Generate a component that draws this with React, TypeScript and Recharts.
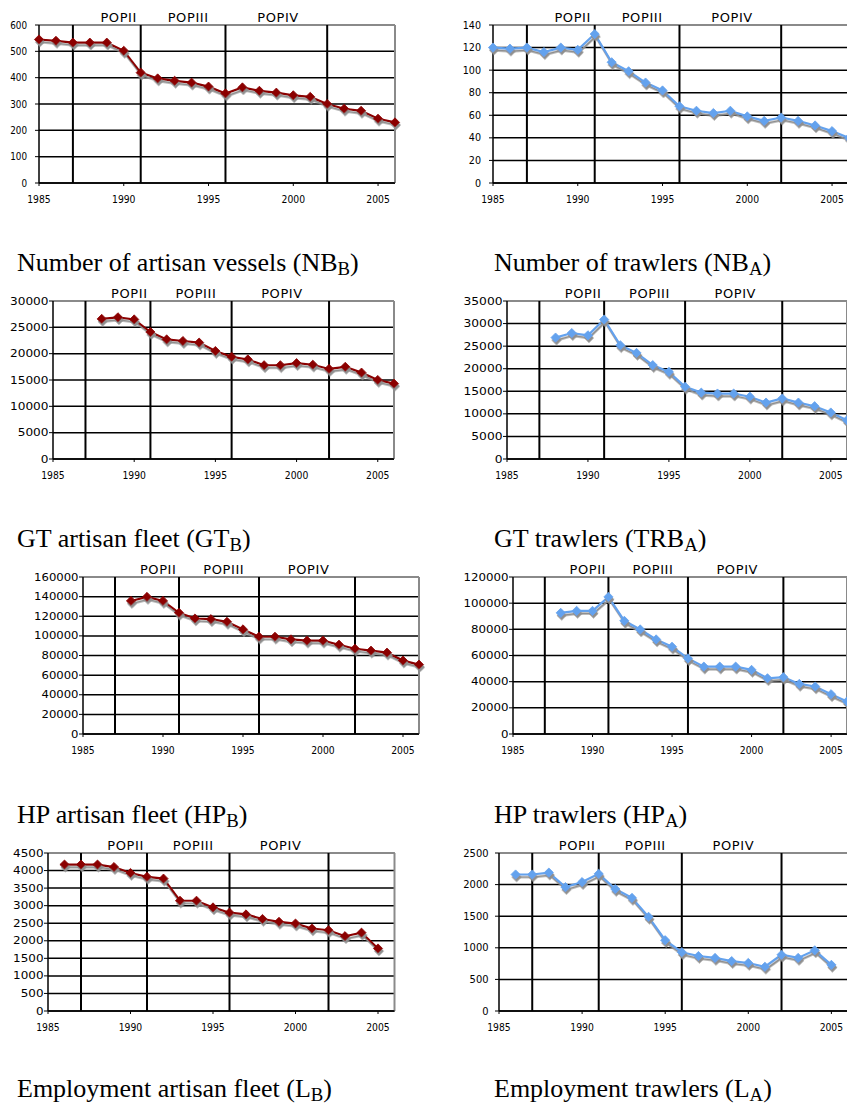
import React from 'react';
import { LineChart, Line, XAxis, YAxis, CartesianGrid, ReferenceLine } from 'recharts';

// ---------- data ----------
const yearsFull = [1985, 1986, 1987, 1988, 1989, 1990, 1991, 1992, 1993, 1994, 1995, 1996, 1997, 1998, 1999, 2000, 2001, 2002, 2003, 2004, 2005, 2006];
const yearsFrom1988 = [1988, 1989, 1990, 1991, 1992, 1993, 1994, 1995, 1996, 1997, 1998, 1999, 2000, 2001, 2002, 2003, 2004, 2005, 2006];
const yearsEmployment = [1986, 1987, 1988, 1989, 1990, 1991, 1992, 1993, 1994, 1995, 1996, 1997, 1998, 1999, 2000, 2001, 2002, 2003, 2004, 2005];

const nbArtisan = [545, 540, 533, 533, 533, 502, 419, 397, 388, 381, 366, 340, 363, 350, 343, 333, 327, 300, 282, 274, 244, 230];
const nbTrawlers = [120, 119, 120, 116, 120, 118, 132, 107, 99, 89, 82, 68, 64, 62, 64, 59, 55, 58, 55, 51, 46, 40];
const gtArtisan = [26600, 26900, 26500, 24100, 22700, 22400, 22100, 20500, 19400, 18900, 17800, 17800, 18200, 17900, 17100, 17500, 16400, 15000, 14300];
const gtTrawlers = [26900, 27900, 27400, 30900, 25200, 23500, 20800, 19300, 16000, 14700, 14500, 14500, 13800, 12500, 13400, 12500, 11700, 10300, 8600];
const hpArtisan = [135600, 139700, 135600, 123500, 117700, 117000, 114300, 106600, 99100, 99100, 96400, 95100, 95100, 91000, 86900, 84900, 82900, 74800, 70700];
const hpTrawlers = [92600, 94100, 94100, 104800, 86500, 79900, 72300, 66700, 57800, 51500, 51500, 51500, 49000, 42600, 43400, 38300, 36300, 30400, 24900];
const empArtisan = [4170, 4170, 4170, 4100, 3930, 3820, 3770, 3140, 3140, 2950, 2800, 2750, 2620, 2540, 2490, 2350, 2300, 2130, 2230, 1780];
const empTrawlers = [2160, 2160, 2190, 1960, 2040, 2170, 1930, 1790, 1490, 1120, 930, 870, 840, 790, 760, 700, 890, 840, 960, 730];

const xTicks = [1985, 1990, 1995, 2000, 2005];
const xDomain = [1985, 2006];
const ticksNbArtisan = [0, 100, 200, 300, 400, 500, 600];
const ticksNbTrawlers = [0, 20, 40, 60, 80, 100, 120, 140];
const ticksGtArtisan = [0, 5000, 10000, 15000, 20000, 25000, 30000];
const ticksGtTrawlers = [0, 5000, 10000, 15000, 20000, 25000, 30000, 35000];
const ticksHpArtisan = [0, 20000, 40000, 60000, 80000, 100000, 120000, 140000, 160000];
const ticksHpTrawlers = [0, 20000, 40000, 60000, 80000, 100000, 120000];
const ticksEmpArtisan = [0, 500, 1000, 1500, 2000, 2500, 3000, 3500, 4000, 4500];
const ticksEmpTrawlers = [0, 500, 1000, 1500, 2000, 2500];

const periodLines = [1987, 1991, 1996, 2002];
const periodLabels = ['POPII', 'POPIII', 'POPIV'];
const periodLabelYears = [1989.7, 1993.8, 1999.1];

// ---------- styles / layout ----------
const RED = '#8B0000';
const BLUE = '#64A2EE';
const SANS = '"DejaVu Sans", Verdana, sans-serif';
const SERIF = '"Liberation Serif", "Times New Roman", serif';

const panels = [
  { years: yearsFull, values: nbArtisan, ticks: ticksNbArtisan, color: RED, title: 'Number of artisan vessels (NB', sub: 'B',
    l: 39, t: 25, r: 395, b: 183, yDigit: 5.6, yGap: 12, tx: 17, ty: 250 },
  { years: yearsFull, values: nbTrawlers, ticks: ticksNbTrawlers, color: BLUE, title: 'Number of trawlers (NB', sub: 'A',
    l: 493, t: 25, r: 849, b: 183, yDigit: 6.1, yGap: 12, tx: 494, ty: 250 },
  { years: yearsFrom1988, values: gtArtisan, ticks: ticksGtArtisan, color: RED, title: 'GT artisan fleet (GT', sub: 'B',
    l: 53, t: 301, r: 394, b: 459, yDigit: 7.7, yGap: 4.5, tx: 17, ty: 526 },
  { years: yearsFrom1988, values: gtTrawlers, ticks: ticksGtTrawlers, color: BLUE, title: 'GT trawlers (TRB', sub: 'A',
    l: 507, t: 301, r: 847, b: 459, yDigit: 7.8, yGap: 4.5, tx: 494, ty: 526 },
  { years: yearsFrom1988, values: hpArtisan, ticks: ticksHpArtisan, color: RED, title: 'HP artisan fleet (HP', sub: 'B',
    l: 83, t: 577, r: 419, b: 734, yDigit: 7.4, yGap: 4.5, tx: 17, ty: 802 },
  { years: yearsFrom1988, values: hpTrawlers, ticks: ticksHpTrawlers, color: BLUE, title: 'HP trawlers (HP', sub: 'A',
    l: 513, t: 577, r: 847, b: 734, yDigit: 7.5, yGap: 4.5, tx: 494, ty: 802 },
  { years: yearsEmployment, values: empArtisan, ticks: ticksEmpArtisan, color: RED, title: 'Employment artisan fleet (L', sub: 'B',
    l: 48, t: 853, r: 394.5, b: 1011, yDigit: 7.6, yGap: 4.5, tx: 17, ty: 1076 },
  { years: yearsEmployment, values: empTrawlers, ticks: ticksEmpTrawlers, color: BLUE, title: 'Employment trawlers (L', sub: 'A',
    l: 499, t: 853, r: 848, b: 1011, yDigit: 6.3, yGap: 10.5, tx: 494, ty: 1076 },
];

const TOP_PAD = 28;
const Y_W = 60;
const X_H = 30;

const XTick = (props: any) => {
  const { x, y, payload } = props;
  return (
    <text x={x} y={y} dy="0.71em" textAnchor="middle" fontFamily={SANS} fontSize={10} fill="#000"
      textLength={23.5} lengthAdjust="spacingAndGlyphs">
      {payload.value}
    </text>
  );
};

const makeYTick = (digitW: number) => (props: any) => {
  const { x, y, payload } = props;
  const s = String(payload.value);
  return (
    <text x={x} y={y} dy="0.36em" textAnchor="end" fontFamily={SANS} fontSize={10} fill="#000"
      textLength={s.length * digitW} lengthAdjust="spacingAndGlyphs">
      {s}
    </text>
  );
};

const makeDiamond = (color: string) => (props: any) => {
  const { cx, cy, index } = props;
  if (cx == null || cy == null) return <g key={index} />;
  const r = 4.6;
  return (
    <path key={index} d={`M${cx},${cy - r}L${cx + r},${cy}L${cx},${cy + r}L${cx - r},${cy}Z`}
      fill={color} stroke={color} strokeWidth={0.8} />
  );
};

const PopLabel = (text: string) => (props: any) => {
  const vb = props.viewBox || {};
  const x = (vb.x || 0) + (vb.width || 0) / 2;
  const y = (vb.y || 0) - 3;
  return (
    <text x={x} y={y} textAnchor="middle" fontFamily={SANS} fontSize={13} letterSpacing={0.6} fill="#000">
      {text}
    </text>
  );
};

const Panel = ({ p }: { p: any }) => {
  const data = p.years.map((year: number, i: number) => ({ year, value: p.values[i] }));
  const width = p.r - p.l + Y_W + 6;
  const height = p.b - p.t + TOP_PAD + X_H + 2;
  const yMax = p.ticks[p.ticks.length - 1];
  return (
    <div className="panel" style={{ position: 'absolute', left: p.l - Y_W, top: p.t - TOP_PAD, width, height }}>
      <LineChart width={width} height={height} data={data}
        margin={{ top: TOP_PAD, right: 6, left: 0, bottom: 2 }}>
        <CartesianGrid horizontal vertical={false} stroke="#000" strokeWidth={1.5} />
        <XAxis dataKey="year" type="number" domain={xDomain} ticks={xTicks} interval={0}
          tick={XTick} tickSize={3} tickMargin={10} height={X_H}
          axisLine={{ stroke: '#000', strokeWidth: 1.5 }} tickLine={{ stroke: '#000', strokeWidth: 1 }} />
        <YAxis type="number" domain={[0, yMax]} ticks={p.ticks} interval={0} width={Y_W}
          tick={makeYTick(p.yDigit)} tickSize={4} tickMargin={p.yGap - 4}
          axisLine={{ stroke: '#000', strokeWidth: 1.5 }} tickLine={{ stroke: '#000', strokeWidth: 1 }} />
        <ReferenceLine y={yMax} stroke="#8a8a8a" strokeWidth={2} />
        <ReferenceLine x={2006} stroke="#8a8a8a" strokeWidth={2} />
        {periodLines.map((yr) => (
          <ReferenceLine key={`pl${yr}`} x={yr} stroke="#000" strokeWidth={2} />
        ))}
        {periodLabels.map((lab, i) => (
          <ReferenceLine key={lab} x={periodLabelYears[i]} stroke="none" strokeWidth={0}
            label={{ content: PopLabel(lab) }} />
        ))}
        <Line type="linear" dataKey="value" stroke={p.color} strokeWidth={2.2}
          dot={makeDiamond(p.color)} activeDot={false} isAnimationActive={false} />
      </LineChart>
    </div>
  );
};

const Title = ({ p }: { p: any }) => (
  <div style={{ position: 'absolute', left: p.tx, top: p.ty, fontFamily: SERIF, fontSize: 26, lineHeight: '26px',
    whiteSpace: 'nowrap', color: '#000' }}>
    {p.title}
    <span style={{ fontSize: '0.72em', verticalAlign: '-0.2em', lineHeight: '1' }}>{p.sub}</span>)
  </div>
);

export default function App() {
  return (
    <div style={{ position: 'absolute', left: 0, top: 0, width: 847, height: 1106, overflow: 'hidden', background: '#fff' }}>
      <style>{`.panel .recharts-line-curve, .panel .recharts-line-dots { filter: url(#lineShadow); }`}</style>
      <svg width={0} height={0} style={{ position: 'absolute' }}>
        <defs>
          <filter id="lineShadow" x="-10%" y="-30%" width="120%" height="180%">
            <feDropShadow dx="1" dy="2.6" stdDeviation="0.4" floodColor="#8f8f8f" floodOpacity="1" />
          </filter>
        </defs>
      </svg>
      {panels.map((p, i) => (
        <Panel key={`p${i}`} p={p} />
      ))}
      {panels.map((p, i) => (
        <Title key={`t${i}`} p={p} />
      ))}
    </div>
  );
}
